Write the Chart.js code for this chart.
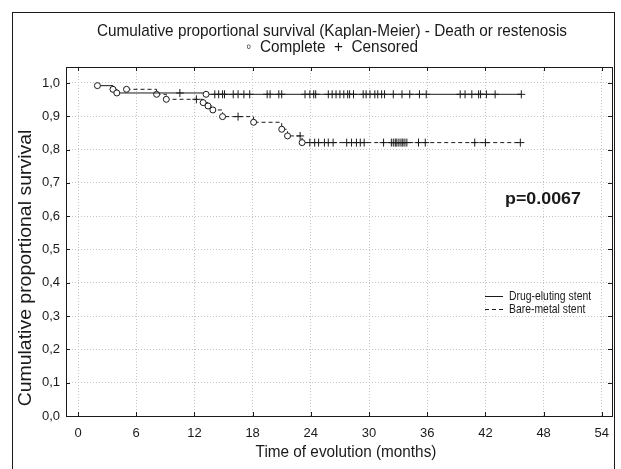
<!DOCTYPE html>
<html>
<head>
<meta charset="utf-8">
<script src="https://cdn.jsdelivr.net/npm/chart.js@4.4.0/dist/chart.umd.min.js"></script>
<style>
  html, body { margin: 0; padding: 0; background: #fff; }
</style>
</head>
<body>
<canvas id="kmChart" width="621" height="469"></canvas>
<script>
// Kaplan-Meier: time of event (months) and survival after the event
var desEventTimes = [2.0, 3.6, 4.0, 13.2];
var desEventSurv  = [0.992, 0.981, 0.970, 0.966];
var desCensored = [10.5, 14.1, 14.5, 14.9, 15.1, 16.0, 16.5, 17.1, 17.7, 19.5, 19.8, 20.7, 21.0,
                   23.4, 23.9, 24.3, 24.5, 25.8, 26.2, 26.6, 27.0, 27.4, 27.8, 28.0, 28.4, 29.4,
                   29.7, 30.1, 30.6, 30.9, 31.3, 31.6, 32.5, 33.4, 34.2, 35.2, 35.9, 39.4, 39.9,
                   40.6, 41.3, 41.5, 42.1, 43.0, 45.7];

var bmsEventTimes = [5.0, 8.1, 9.1, 12.9, 13.4, 13.9, 14.9, 18.1, 21.0, 21.6, 23.1];
var bmsEventSurv  = [0.981, 0.966, 0.951, 0.941, 0.931, 0.919, 0.899, 0.882, 0.861, 0.841, 0.821];
var bmsCensored = [12.2, 16.5, 22.9, 23.9, 24.4, 24.8, 25.4, 25.8, 26.3, 27.7, 28.2, 28.7, 29.1,
                   29.5, 31.5, 32.3, 32.5, 32.7, 32.8, 33.0, 33.2, 33.4, 33.5, 33.7, 33.9, 35.1,
                   35.8, 40.9, 42.0, 45.6];

var xTicks = [0, 6, 12, 18, 24, 30, 36, 42, 48, 54];
var yTicks = [0, 0.1, 0.2, 0.3, 0.4, 0.5, 0.6, 0.7, 0.8, 0.9, 1.0];
var seriesNames = ['Drug-eluting stent', 'Bare-metal stent'];

var sans = '"Liberation Sans", Arial, sans-serif';
var ink = '#1a1a1a';

function survAt(times, surv, t) {
    var s = 1;
    for (var i = 0; i < times.length; i++) {
        if (times[i] <= t) s = surv[i];
    }
    return s;
}

function curve(times, surv, cens) {
    var pts = times.map(function(t, i) { return {x: t, y: surv[i]}; });
    var last = cens[cens.length - 1];
    pts.push({x: last, y: survAt(times, surv, last)});
    return pts;
}

function marks(times, surv, cens) {
    return cens.map(function(t) { return {x: t, y: survAt(times, surv, t)}; });
}

// the original uses a narrow font, so squeeze the text horizontally
function squeezeText(c, text, x, y, k, rot) {
    c.save();
    c.translate(x, y);
    if (rot) c.rotate(rot);
    c.scale(k, 1);
    c.fillText(text, 0, 0);
    c.restore();
}

var framePlugin = {
    id: 'frame',
    beforeDraw: function(chart) {
        var c = chart.ctx;
        c.save();
        c.fillStyle = '#fff';
        c.fillRect(0, 0, chart.width, chart.height);
        c.restore();
    },
    afterDraw: function(chart) {
        var c = chart.ctx, a = chart.chartArea;
        var xs = chart.scales.x, ys = chart.scales.y;
        c.save();
        c.strokeStyle = ink;
        c.lineWidth = 1;
        // outer frame
        c.strokeRect(12.5, 12.5, 602, 480);
        // plot border
        c.strokeRect(Math.round(a.left) + 0.5, Math.round(a.top) + 0.5,
                     Math.round(a.right - a.left), Math.round(a.bottom - a.top));
        // inward ticks
        c.beginPath();
        xTicks.forEach(function(v) {
            var px = Math.round(xs.getPixelForValue(v)) + 0.5;
            c.moveTo(px, a.bottom); c.lineTo(px, a.bottom - 4);
            c.moveTo(px, a.top); c.lineTo(px, a.top + 4);
        });
        yTicks.forEach(function(v) {
            var py = Math.round(ys.getPixelForValue(v)) + 0.5;
            c.moveTo(a.left, py); c.lineTo(a.left + 4, py);
            c.moveTo(a.right, py); c.lineTo(a.right - 4, py);
        });
        c.stroke();

        // titles
        c.fillStyle = ink;
        c.textAlign = 'center';
        c.textBaseline = 'middle';
        c.font = '17px ' + sans;
        var title = 'Cumulative proportional survival (Kaplan-Meier) - Death or restenosis';
        var k = 470 / c.measureText(title).width;
        squeezeText(c, title, 332, 31, k);
        squeezeText(c, '\u25E6  Complete  +  Censored', 332, 47, k);
        squeezeText(c, 'Time of evolution (months)', 346, 452, k);
        c.font = '18px ' + sans;
        squeezeText(c, 'Cumulative proportional survival', 26, 268, 1.08, -Math.PI / 2);

        // p value
        c.textAlign = 'left';
        c.font = 'bold 17px ' + sans;
        squeezeText(c, 'p=0.0067', 505, 199, 1.05);

        // legend
        c.font = '13px ' + sans;
        var ly = [296, 309];
        [0, 2].forEach(function(di, n) {
            var ds = chart.data.datasets[di];
            c.beginPath();
            c.setLineDash(ds.borderDash || []);
            c.moveTo(485, ly[n] + 0.5);
            c.lineTo(503, ly[n] + 0.5);
            c.stroke();
            c.setLineDash([]);
            squeezeText(c, ds.label, 509, ly[n], 0.8);
        });
        c.restore();
    }
};

var ctx = document.getElementById('kmChart');
var kmChart = new Chart(ctx, {
    type: 'line',
    data: {
        datasets: [{
            label: seriesNames[0],
            data: curve(desEventTimes, desEventSurv, desCensored),
            stepped: 'before',
            borderColor: ink,
            borderWidth: 1,
            backgroundColor: '#fff',
            pointBorderColor: ink,
            pointBackgroundColor: '#fff',
            pointBorderWidth: 1,
            pointRadius: function(c) { return c.dataIndex < desEventTimes.length ? 3 : 0; },
            fill: false
        }, {
            label: 'DES censored',
            type: 'scatter',
            data: marks(desEventTimes, desEventSurv, desCensored),
            pointStyle: 'cross',
            pointRadius: 4,
            borderColor: ink,
            borderWidth: 1,
            showLine: false
        }, {
            label: seriesNames[1],
            data: curve(bmsEventTimes, bmsEventSurv, bmsCensored),
            stepped: 'before',
            borderColor: ink,
            borderWidth: 1,
            borderDash: [4, 3],
            backgroundColor: '#fff',
            pointBorderColor: ink,
            pointBackgroundColor: '#fff',
            pointBorderWidth: 1,
            pointRadius: function(c) { return c.dataIndex < bmsEventTimes.length ? 3 : 0; },
            fill: false
        }, {
            label: 'BMS censored',
            type: 'scatter',
            data: marks(bmsEventTimes, bmsEventSurv, bmsCensored),
            pointStyle: 'cross',
            pointRadius: 4,
            borderColor: ink,
            borderWidth: 1,
            showLine: false
        }]
    },
    options: {
        responsive: false,
        animation: false,
        events: [],
        layout: {
            padding: { left: 16, right: 9, top: 67, bottom: 0 }
        },
        plugins: {
            legend: { display: false },
            title: { display: false },
            tooltip: { enabled: false }
        },
        scales: {
            x: {
                type: 'linear',
                min: -1.24,
                max: 55.05,
                afterBuildTicks: function(s) {
                    s.ticks = xTicks.map(function(v) { return {value: v}; });
                },
                afterFit: function(s) { s.height = 53; },
                grid: {
                    color: '#c4c4c4',
                    drawTicks: false,
                    lineWidth: 1
                },
                border: { display: false, dash: [1, 2] },
                ticks: {
                    color: ink,
                    padding: 10,
                    maxRotation: 0,
                    font: { family: sans, size: 13 },
                    callback: function(v) { return String(v); }
                }
            },
            y: {
                type: 'linear',
                min: 0,
                max: 1.048,
                afterBuildTicks: function(s) {
                    s.ticks = yTicks.map(function(v) { return {value: v}; });
                },
                afterFit: function(s) { s.width = 50; },
                grid: {
                    color: '#c4c4c4',
                    drawTicks: false,
                    lineWidth: 1
                },
                border: { display: false, dash: [1, 2] },
                ticks: {
                    color: ink,
                    padding: 6,
                    font: { family: sans, size: 13 },
                    callback: function(v) { return v.toFixed(1).replace('.', ','); }
                }
            }
        }
    },
    plugins: [framePlugin]
});
</script>
</body>
</html>
